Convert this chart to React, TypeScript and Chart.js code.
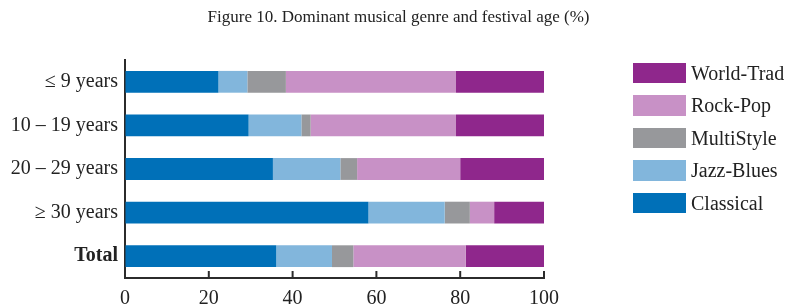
import React, { useEffect, useRef } from "react";
import { Chart, registerables } from "chart.js";

Chart.register(...registerables);

const titleText = "Figure 10. Dominant musical genre and festival age (%)";
const categories = ["≤ 9 years", "10 – 19 years", "20 – 29 years", "≥ 30 years", "Total"];
const seriesNames = ["Classical", "Jazz-Blues", "MultiStyle", "Rock-Pop", "World-Trad"];
const seriesColors = ["#0070b8", "#82b6dc", "#97989b", "#c891c6", "#8f278c"];
const classical = [22.3, 29.5, 35.3, 58.1, 36.1];
const jazzBlues = [6.9, 12.6, 16.1, 18.2, 13.3];
const multiStyle = [9.2, 2.2, 4.0, 6.0, 5.1];
const rockPop = [40.6, 34.7, 24.6, 5.8, 26.8];
const worldTrad = [21.0, 21.0, 20.0, 11.9, 18.7];
const xMin = 0;
const xMax = 100;
const xStep = 20;

const FONT = '"Liberation Serif", "Times New Roman", serif';
const INK = "#222222";
const AXIS = "#2b2b2b";

const innerTicks = {
  id: "innerTicks",
  afterDraw(chart: any) {
    const { ctx, chartArea, scales } = chart;
    const x = scales.x;
    ctx.save();
    ctx.strokeStyle = AXIS;
    ctx.lineWidth = 2;
    x.ticks.forEach((t: any) => {
      if (t.value === xMin) return;
      const px = x.getPixelForValue(t.value);
      ctx.beginPath();
      ctx.moveTo(px, chartArea.bottom);
      ctx.lineTo(px, chartArea.bottom - 7);
      ctx.stroke();
    });
    ctx.restore();
  },
};

const centeredTitle = {
  id: "centeredTitle",
  afterDraw(chart: any) {
    const { ctx, width } = chart;
    ctx.save();
    ctx.fillStyle = INK;
    ctx.font = `17px ${FONT}`;
    ctx.textAlign = "center";
    ctx.textBaseline = "middle";
    ctx.fillText(titleText, width / 2 + 1, 10);
    ctx.restore();
  },
};

export default function App() {
  const ref = useRef<HTMLCanvasElement | null>(null);

  useEffect(() => {
    if (!ref.current) return;
    const seriesData = [classical, jazzBlues, multiStyle, rockPop, worldTrad];
    const chart = new Chart(ref.current, {
      type: "bar",
      data: {
        labels: categories,
        datasets: seriesNames.map((name, i) => ({
          label: name,
          data: seriesData[i],
          backgroundColor: seriesColors[i],
          borderWidth: 0,
          barPercentage: 0.5,
          categoryPercentage: 1,
        })),
      },
      options: {
        indexAxis: "y",
        animation: false,
        responsive: true,
        maintainAspectRatio: false,
        layout: { padding: { top: 52, left: 0, right: 243, bottom: 0 } },
        plugins: {
          legend: { display: false },
          tooltip: { enabled: false },
          title: { display: false },
        },
        scales: {
          x: {
            stacked: true,
            min: xMin,
            max: xMax,
            grid: { display: true, drawOnChartArea: false, drawTicks: false },
            border: { display: true, color: AXIS, width: 2 },
            ticks: {
              stepSize: xStep,
              color: INK,
              padding: 9,
              font: { family: FONT, size: 20 },
            },
            afterFit: (s: any) => {
              s.height = 27;
              s.paddingLeft = 0;
              s.paddingRight = 0;
            },
          },
          y: {
            stacked: true,
            grid: { display: true, drawOnChartArea: false, drawTicks: false },
            border: { display: true, color: AXIS, width: 2 },
            ticks: {
              color: INK,
              padding: 7,
              font: (c: any) => ({
                family: FONT,
                size: 20,
                weight: c.index === categories.length - 1 ? "bold" : "normal",
              }),
            },
            afterFit: (s: any) => {
              s.width = 117;
            },
          },
        },
      },
      plugins: [innerTicks, centeredTitle],
    });
    return () => chart.destroy();
  }, []);

  const legendOrder = seriesNames.map((_, i) => i).reverse();

  return (
    <div style={{ position: "fixed", left: 8, top: 8, width: 779, height: 297 }}>
      <canvas ref={ref} />
      <div style={{ position: "absolute", left: 625, top: 54.5 }}>
        {legendOrder.map((i) => (
          <div
            key={seriesNames[i]}
            style={{ display: "flex", alignItems: "center", height: 32.5 }}
          >
            <div
              style={{
                width: 53,
                height: 20.5,
                background: seriesColors[i],
                marginRight: 5,
                alignSelf: "flex-start",
              }}
            />
            <span
              style={{
                fontFamily: FONT,
                fontSize: 20,
                color: INK,
                lineHeight: "20.5px",
                alignSelf: "flex-start",
                whiteSpace: "nowrap",
              }}
            >
              {seriesNames[i]}
            </span>
          </div>
        ))}
      </div>
    </div>
  );
}
